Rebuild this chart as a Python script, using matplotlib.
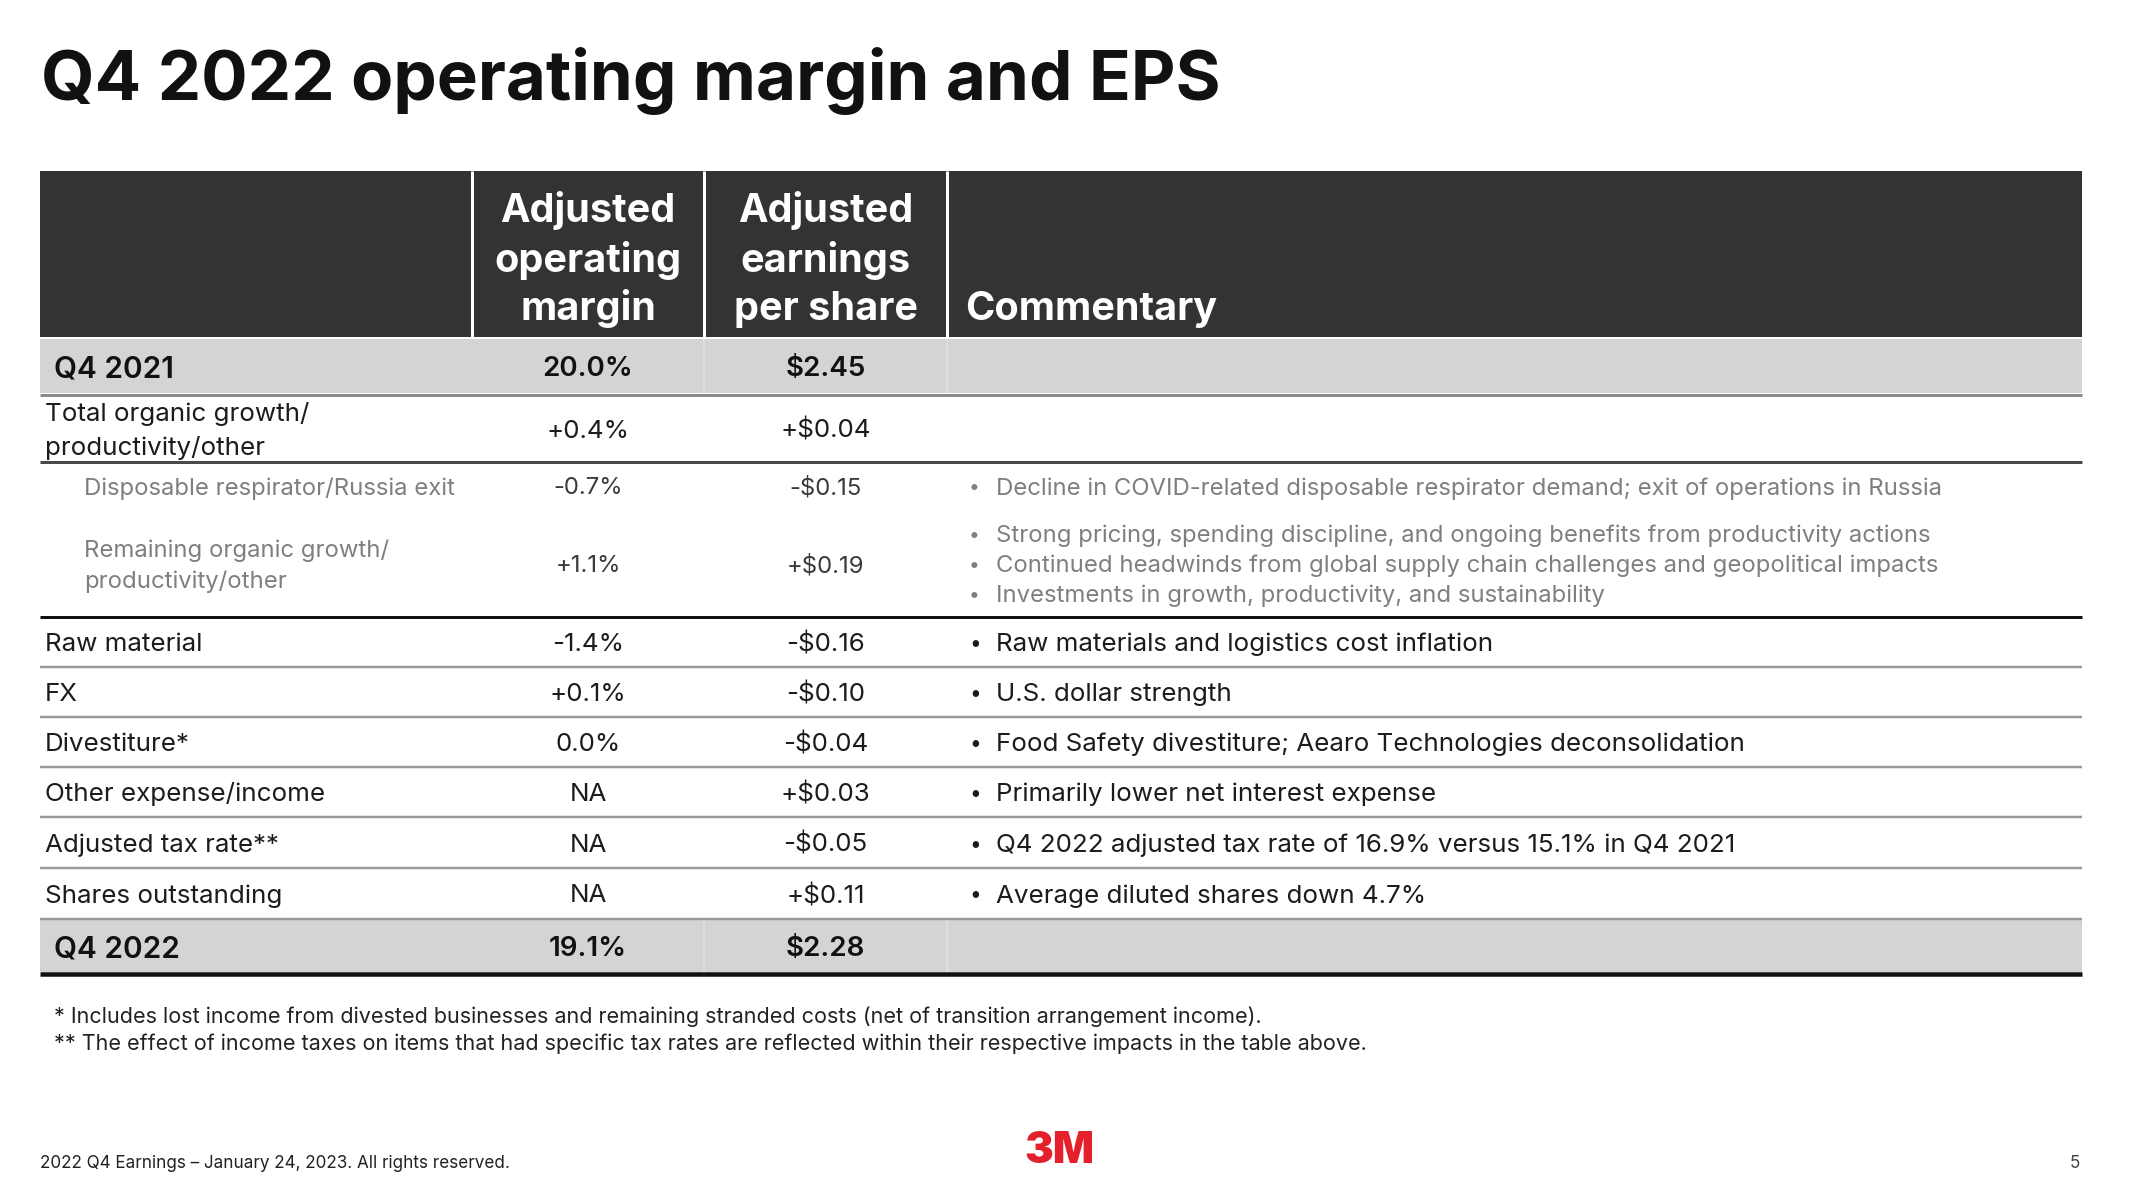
import matplotlib
matplotlib.use("Agg")
import matplotlib.pyplot as plt
from matplotlib.patches import Rectangle

plt.rcParams['font.family'] = ['Inter', 'DejaVu Sans']

#========== Data ==========
title = "Q4 2022 operating margin and EPS"
col_headers = [["Adjusted", "operating", "margin"], ["Adjusted", "earnings", "per share"]]
comment_header = "Commentary"

row_labels = ["Q4 2021",
              "Total organic growth/\nproductivity/other",
              "Disposable respirator/Russia exit",
              "Remaining organic growth/\nproductivity/other",
              "Raw material", "FX", "Divestiture*", "Other expense/income",
              "Adjusted tax rate**", "Shares outstanding", "Q4 2022"]
margin_vals = ["20.0%", "+0.4%", "-0.7%", "+1.1%", "-1.4%", "+0.1%", "0.0%",
               "NA", "NA", "NA", "19.1%"]
eps_vals = ["$2.45", "+$0.04", "-$0.15", "+$0.19", "-$0.16", "-$0.10", "-$0.04",
            "+$0.03", "-$0.05", "+$0.11", "$2.28"]
comments = [[], [],
            ["Decline in COVID-related disposable respirator demand; exit of operations in Russia"],
            ["Strong pricing, spending discipline, and ongoing benefits from productivity actions",
             "Continued headwinds from global supply chain challenges and geopolitical impacts",
             "Investments in growth, productivity, and sustainability"],
            ["Raw materials and logistics cost inflation"],
            ["U.S. dollar strength"],
            ["Food Safety divestiture; Aearo Technologies deconsolidation"],
            ["Primarily lower net interest expense"],
            ["Q4 2022 adjusted tax rate of 16.9% versus 15.1% in Q4 2021"],
            ["Average diluted shares down 4.7%"],
            []]
footnotes = ["* Includes lost income from divested businesses and remaining stranded costs (net of transition arrangement income).",
             "** The effect of income taxes on items that had specific tax rates are reflected within their respective impacts in the table above."]
footer = "2022 Q4 Earnings \u2013 January 24, 2023. All rights reserved."
page_no = "5"

#========== Layout (pixels) ==========
row_kind = ['total', 'main', 'sub', 'sub', 'main', 'main', 'main', 'main', 'main', 'main', 'total']
row_h = [57, 67, 48, 107, 50, 50, 50, 50, 51, 51, 55]
line_after = [('#8a8a8a', 3), ('#4a4a4a', 3), None, ('#111111', 3),
              ('#9a9a9a', 2.5), ('#9a9a9a', 2.5), ('#9a9a9a', 2.5), ('#9a9a9a', 2.5),
              ('#9a9a9a', 2.5), ('#9a9a9a', 2.5), ('#111111', 4.5)]

W, H = 2134, 1190
x0, x1 = 39.5, 2082
col_div = [472, 704, 947]
head_top, head_bot = 171, 337
dark = '#333333'
grey_band = '#d4d4d4'
txt = '#1c1c1c'
sub_txt = '#7f7f7f'
px = 0.72  # pixel -> points at dpi 100

fig = plt.figure(figsize=(W / 100, H / 100), dpi=100)
ax = fig.add_axes([0, 0, 1, 1])
ax.set_xlim(0, W)
ax.set_ylim(H, 0)
ax.axis('off')

# title
ax.text(41, 100, title, fontsize=49.7, fontweight='bold', color='#111111',
        ha='left', va='baseline')

# header band
ax.add_patch(Rectangle((x0, head_top), x1 - x0, head_bot - head_top, color=dark, lw=0))
for xd in col_div:
    ax.vlines(xd, head_top, head_bot, color='white', lw=3 * px)
head_lines_y = [207, 256, 305]
for c, lines in enumerate(col_headers):
    xc = (col_div[c] + col_div[c + 1]) / 2
    for ln, yy in zip(lines, head_lines_y):
        ax.text(xc, yy, ln, fontsize=28.5, fontweight='bold', color='white',
                ha='center', va='center_baseline')
ax.text(965, head_lines_y[-1], comment_header, fontsize=28.5, fontweight='bold',
        color='white', ha='left', va='center_baseline')

# rows
mid_margin = (col_div[0] + col_div[1]) / 2
mid_eps = (col_div[1] + col_div[2]) / 2
y = head_bot + 1
for i, lab in enumerate(row_labels):
    h = row_h[i]
    yc = y + h / 2
    kind = row_kind[i]
    if kind == 'total':
        ax.add_patch(Rectangle((x0, y + 1), x1 - x0, h - 3, color=grey_band, lw=0))
        for xd in col_div[1:]:
            ax.vlines(xd, y + 1, y + h - 2, color='#e2e2e2', lw=1.5 * px)
        fs, col, lx, wt, gap = 20, '#111111', 54, 'semibold', 0
        lfs = 21.5
    elif kind == 'sub':
        fs, col, lx, wt, gap = 17.2, sub_txt, 84, 'normal', 31
        lfs = fs
    else:
        fs, col, lx, wt, gap = 18.7, txt, 45, 'normal', 33
        lfs = fs
    # label lines drawn one by one so the spacing matches
    parts = lab.split("\n")
    for k, p in enumerate(parts):
        ly = yc + (k - (len(parts) - 1) / 2) * gap
        ax.text(lx, ly, p, fontsize=lfs, fontweight=wt, color=col,
                ha='left', va='center_baseline')
    vcol = '#111111' if kind == 'total' else ('#3a3a3a' if kind == 'sub' else txt)
    ax.text(mid_margin, yc, margin_vals[i], fontsize=fs, fontweight=wt, color=vcol,
            ha='center', va='center_baseline')
    ax.text(mid_eps, yc, eps_vals[i], fontsize=fs, fontweight=wt, color=vcol,
            ha='center', va='center_baseline')

    cm = comments[i]
    if cm:
        step = 30
        start = yc - step * (len(cm) - 1) / 2
        ccol = sub_txt if kind == 'sub' else txt
        for k, s in enumerate(cm):
            cy = start + k * step
            ax.text(969, cy, "\u2022", fontsize=fs * 0.8, color=ccol,
                    ha='left', va='center_baseline')
            ax.text(996, cy, s, fontsize=fs, color=ccol, ha='left', va='center_baseline')

    y += h
    if line_after[i] is not None:
        lc, lw = line_after[i]
        ax.hlines(y, x0, x1, color=lc, lw=lw * px)

# footnotes
for k, s in enumerate(footnotes):
    ax.text(54, 1015 + k * 27, s, fontsize=15.5, color='#222222',
            ha='left', va='center_baseline')

# footer
ax.text(39.5, 1162, footer, fontsize=12.3, color='#222222', ha='left', va='center_baseline')
ax.text(2080, 1162, page_no, fontsize=12.3, color='#444444', ha='right', va='center_baseline')
ax.text(1059, 1147, "3M", fontsize=31, fontweight='black', color='#e4202c',
        ha='center', va='center_baseline')

fig.savefig("out.png", dpi=100)
